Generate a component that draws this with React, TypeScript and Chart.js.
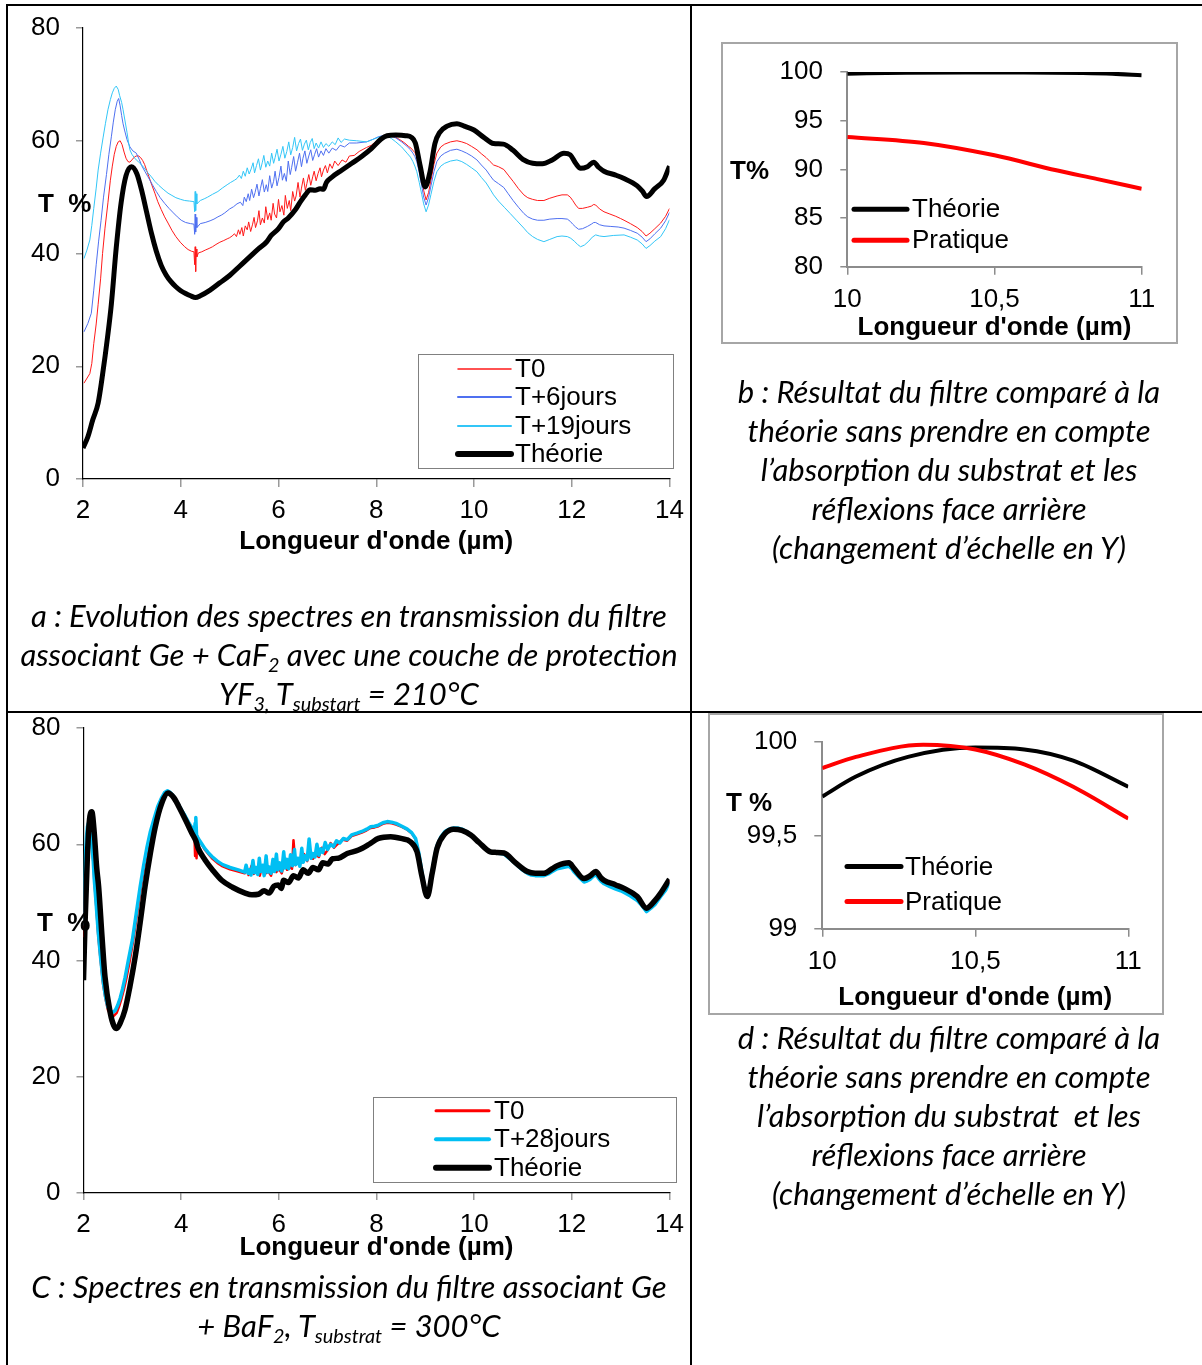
import React, { useEffect, useRef } from 'react';
import { Chart, registerables } from 'chart.js';

Chart.register(...registerables);
const FONT = '"Liberation Sans", Arial, sans-serif';
Chart.defaults.font.family = FONT;

type Pt = [number, number];

// ---------- Chart a : Ge + CaF2 + YF3 (wavelength µm, T %) ----------
const aXTicks = [2, 4, 6, 8, 10, 12, 14];
const aYTicks = [0, 20, 40, 60, 80];
const aT0: Pt[] = [
  [2.02, 17], [2.14, 18.7], [2.18, 20.5], [2.22, 24], [2.27, 27.5], [2.31, 31], [2.36, 35.5], [2.4, 40], [2.45, 44.5], [2.51, 49],
  [2.56, 53], [2.6, 55.5], [2.64, 57.6], [2.68, 59], [2.72, 59.8], [2.76, 60], [2.8, 59.3], [2.84, 58], [2.88, 56.9],
  [2.92, 56.3], [2.96, 56.2], [3.0, 56.6], [3.05, 57.1], [3.09, 57.3], [3.14, 57.3], [3.18, 57.0], [3.22, 56.5], [3.26, 55.8],
  [3.3, 54.8], [3.35, 53.6], [3.41, 52.1], [3.47, 50.7], [3.53, 49.2], [3.6, 47.8], [3.67, 46.5], [3.74, 45.4], [3.82, 44.1],
  [3.9, 43.0], [3.99, 42.0], [4.08, 41.2], [4.15, 40.7], [4.22, 40.4], [4.27, 40.3], [4.285, 38.0], [4.295, 41.2], [4.305, 36.8],
  [4.315, 40.8], [4.33, 39.4], [4.36, 40.1], [4.43, 40.3], [4.5, 40.6], [4.58, 40.9], [4.65, 41.2], [4.72, 41.6], [4.8, 42.0],
  [4.88, 42.3], [4.95, 42.6], [5.0, 42.8], [5.05, 43.1],
  [5.1, 43.5], [5.14, 43.0], [5.18, 44.2], [5.21, 43.4], [5.25, 44.6], [5.28, 43.1], [5.32, 44.9], [5.36, 44.2], [5.39, 45.6],
  [5.43, 43.9], [5.47, 45.2], [5.5, 46.4], [5.53, 44.6], [5.57, 45.8], [5.6, 47.6], [5.63, 45.1], [5.67, 46.3], [5.71, 45.4],
  [5.74, 48.3], [5.78, 46.0], [5.82, 47.2], [5.85, 45.9], [5.89, 48.9], [5.92, 47.0], [5.96, 46.3], [6.0, 49.6], [6.03, 47.4],
  [6.07, 48.5], [6.11, 46.8], [6.14, 50.3], [6.18, 48.0], [6.22, 49.4], [6.25, 47.6], [6.29, 51.0], [6.33, 49.3], [6.36, 50.2],
  [6.4, 52.6], [6.44, 50.0], [6.47, 51.6], [6.51, 53.4], [6.55, 51.2], [6.58, 52.4], [6.62, 54.0], [6.66, 52.1], [6.7, 53.6],
  [6.73, 54.6], [6.77, 52.9], [6.81, 54.2], [6.85, 55.2], [6.88, 53.6], [6.92, 54.8], [6.96, 55.6], [7.0, 54.3], [7.05, 55.9],
  [7.1, 55.1], [7.15, 56.4], [7.22, 55.6], [7.3, 56.6], [7.38, 56.2], [7.45, 57.3], [7.55, 57.4], [7.65, 58.1], [7.8, 58.8],
  [7.9, 59.2], [7.97, 59.7], [8.04, 60.1], [8.13, 60.6], [8.22, 61.0], [8.31, 60.9], [8.4, 60.6], [8.48, 60.2], [8.55, 59.8],
  [8.61, 59.4], [8.66, 59.0], [8.71, 58.7], [8.75, 58.3], [8.79, 57.9], [8.83, 57.2], [8.87, 55.6], [8.92, 53.5], [8.97, 51.2],
  [9.02, 49.5], [9.07, 50.8], [9.12, 53.0], [9.18, 55.8], [9.24, 57.8], [9.32, 58.9], [9.4, 59.4], [9.52, 59.8], [9.65, 60.0],
  [9.75, 59.8], [9.85, 59.5], [9.95, 59.0], [10.06, 58.4], [10.15, 57.7], [10.25, 57.0], [10.33, 56.3], [10.4, 55.7],
  [10.5, 55.4], [10.61, 54.9], [10.7, 53.9], [10.8, 52.8], [10.91, 51.5], [11.02, 50.4], [11.1, 49.9], [11.2, 49.6],
  [11.3, 49.4], [11.43, 49.4], [11.55, 49.8], [11.7, 50.2], [11.8, 50.4], [11.91, 50.4], [11.97, 50.0], [12.02, 49.4],
  [12.08, 48.6], [12.14, 48.0], [12.22, 48.0], [12.32, 48.2], [12.4, 48.4], [12.45, 48.7], [12.49, 48.6], [12.57, 47.9],
  [12.66, 47.4], [12.78, 47.0], [12.9, 46.6], [13.0, 46.2], [13.07, 45.9], [13.2, 45.3], [13.34, 44.6], [13.44, 43.9],
  [13.52, 43.1], [13.6, 43.6], [13.7, 44.4], [13.82, 45.4], [13.92, 46.6], [14.0, 48.0],
];
const aT6: Pt[] = [
  [2.02, 26.1], [2.1, 27.6], [2.17, 29.4], [2.22, 33.5], [2.27, 38], [2.32, 42.2], [2.37, 45.9], [2.42, 50], [2.48, 54],
  [2.53, 57.6], [2.58, 60.7], [2.62, 63.3], [2.66, 65.5], [2.7, 67.0], [2.73, 67.5], [2.76, 66.2], [2.79, 64.5], [2.82, 63.0],
  [2.85, 61.9], [2.9, 60.2], [2.96, 58.9], [3.02, 58.2], [3.09, 57.8], [3.15, 56.7], [3.2, 55.6], [3.27, 54.5], [3.33, 53.6],
  [3.42, 52.2], [3.5, 51.0], [3.58, 49.9], [3.67, 48.9], [3.76, 48.0], [3.85, 47.2], [3.93, 46.5], [4.01, 45.9], [4.1, 45.5],
  [4.2, 45.3], [4.27, 45.2], [4.285, 43.4], [4.295, 47.0], [4.305, 43.8], [4.315, 46.4], [4.33, 44.6], [4.4, 45.3],
  [4.5, 45.5], [4.6, 45.8], [4.68, 46.1], [4.76, 46.5], [4.83, 46.8], [4.9, 47.2], [5.0, 47.9], [5.08, 48.3], [5.15, 48.8],
  [5.22, 49.1], [5.27, 48.5], [5.3, 50.0], [5.34, 49.2], [5.38, 50.6], [5.41, 49.4], [5.45, 51.4], [5.49, 49.9], [5.52, 50.8],
  [5.56, 52.3], [5.6, 50.2], [5.63, 51.5], [5.67, 53.1], [5.71, 50.9], [5.75, 52.2], [5.78, 51.0], [5.82, 53.8], [5.86, 51.6],
  [5.9, 52.8], [5.93, 54.6], [5.97, 52.0], [6.01, 53.5], [6.05, 55.5], [6.08, 53.0], [6.12, 54.2], [6.16, 52.8], [6.2, 56.4],
  [6.24, 54.0], [6.27, 55.3], [6.31, 57.2], [6.35, 54.6], [6.39, 56.2], [6.43, 57.8], [6.47, 55.4], [6.5, 56.9], [6.54, 58.2],
  [6.58, 56.0], [6.62, 57.3], [6.66, 58.4], [6.7, 56.5], [6.74, 57.6], [6.78, 58.6], [6.82, 57.1], [6.87, 58.2], [6.92, 57.4],
  [6.97, 58.6], [7.03, 57.8], [7.1, 58.7], [7.18, 58.3], [7.26, 59.2], [7.35, 58.9], [7.45, 59.6], [7.6, 59.6], [7.8, 59.8],
  [7.92, 60.2], [8.04, 60.7], [8.13, 60.9], [8.22, 61.0], [8.31, 60.8], [8.4, 60.5], [8.52, 59.8], [8.63, 59.0], [8.7, 58.4],
  [8.75, 57.8], [8.79, 57.2], [8.83, 56.3], [8.88, 54.4], [8.93, 52.0], [8.97, 50.0], [9.02, 48.6], [9.07, 49.9], [9.12, 52.0],
  [9.18, 54.5], [9.24, 56.3], [9.32, 57.3], [9.4, 57.8], [9.52, 58.3], [9.65, 58.5], [9.75, 58.2], [9.85, 57.8], [9.95, 57.3],
  [10.06, 56.6], [10.15, 55.7], [10.25, 54.8], [10.33, 53.8], [10.4, 53.0], [10.5, 52.4], [10.61, 51.7], [10.7, 50.6],
  [10.8, 49.4], [10.91, 48.2], [11.02, 47.1], [11.1, 46.5], [11.2, 46.1], [11.3, 45.9], [11.43, 45.9], [11.55, 46.1],
  [11.7, 46.2], [11.8, 46.2], [11.91, 46.1], [11.97, 45.7], [12.02, 45.2], [12.08, 44.7], [12.14, 44.3], [12.22, 44.4],
  [12.32, 44.8], [12.4, 45.2], [12.45, 45.5], [12.49, 45.5], [12.57, 45.1], [12.66, 44.9], [12.8, 44.8], [12.95, 44.7],
  [13.07, 44.5], [13.2, 44.1], [13.34, 43.6], [13.44, 42.9], [13.52, 42.1], [13.6, 42.6], [13.7, 43.5], [13.82, 44.5],
  [13.92, 45.8], [14.0, 47.3],
];
const aT19: Pt[] = [
  [2.02, 39.1], [2.08, 40.6], [2.14, 42.4], [2.18, 45], [2.22, 48], [2.27, 51.6], [2.31, 54.8], [2.36, 57.8], [2.41, 60.5],
  [2.46, 63.1], [2.51, 65.5], [2.56, 67.3], [2.6, 68.5], [2.64, 69.3], [2.68, 69.7], [2.72, 69.1], [2.75, 68], [2.79, 66.8],
  [2.82, 65.5], [2.86, 63.5], [2.9, 61.5], [2.93, 59.8], [2.96, 58.4], [3.0, 57.6], [3.05, 57], [3.09, 56.6], [3.13, 56.3],
  [3.19, 55.8], [3.25, 55.2], [3.32, 54.4], [3.4, 53.6], [3.47, 52.8], [3.55, 52.1], [3.64, 51.4], [3.74, 50.7], [3.82, 50.3],
  [3.9, 49.9], [4.0, 49.6], [4.08, 49.4], [4.18, 49.3], [4.27, 49.2], [4.285, 47.4], [4.295, 51.0], [4.305, 47.6], [4.315, 50.6],
  [4.33, 48.8], [4.4, 49.4], [4.48, 49.7], [4.55, 50.0], [4.65, 50.5], [4.76, 51.0], [4.85, 51.6], [4.95, 52.2], [5.02, 52.6],
  [5.1, 53.0], [5.15, 53.3], [5.2, 53.9], [5.24, 53.3], [5.28, 54.6], [5.32, 53.7], [5.36, 55.2], [5.4, 54.1], [5.44, 55.0],
  [5.48, 56.1], [5.51, 54.3], [5.55, 55.6], [5.59, 56.8], [5.63, 54.8], [5.67, 56.2], [5.7, 57.4], [5.74, 55.3], [5.78, 56.4],
  [5.82, 55.5], [5.86, 57.8], [5.9, 56.0], [5.93, 57.0], [5.97, 58.5], [6.01, 56.4], [6.05, 57.6], [6.09, 59.0], [6.13, 56.9],
  [6.17, 58.1], [6.21, 59.8], [6.25, 57.5], [6.29, 58.8], [6.33, 60.6], [6.37, 58.2], [6.41, 59.5], [6.45, 60.3], [6.49, 58.3],
  [6.53, 59.4], [6.57, 60.1], [6.61, 58.4], [6.65, 59.7], [6.69, 60.4], [6.73, 58.6], [6.77, 59.6], [6.82, 58.7], [6.87, 59.8],
  [6.92, 58.8], [6.97, 59.5], [7.03, 59.0], [7.1, 59.8], [7.16, 59.3], [7.22, 60.5], [7.28, 59.7], [7.35, 60.3], [7.45, 60.1],
  [7.6, 60.0], [7.8, 59.8], [7.92, 60.2], [8.04, 60.6], [8.13, 60.8], [8.22, 60.8], [8.31, 60.4], [8.4, 59.8], [8.52, 58.9],
  [8.63, 57.8], [8.7, 57.1], [8.75, 56.3], [8.79, 55.5], [8.83, 54.5], [8.88, 52.6], [8.93, 50.5], [8.97, 48.8], [9.02, 47.4],
  [9.07, 48.6], [9.12, 50.5], [9.18, 52.8], [9.24, 54.5], [9.32, 55.5], [9.4, 56.0], [9.52, 56.4], [9.65, 56.6], [9.75, 56.3],
  [9.85, 55.8], [9.95, 55.2], [10.06, 54.5], [10.15, 53.5], [10.25, 52.5], [10.33, 51.4], [10.4, 50.4], [10.5, 49.3],
  [10.62, 48.2], [10.74, 47.1], [10.88, 45.8], [11.02, 44.5], [11.1, 43.7], [11.2, 43.0], [11.3, 42.5], [11.43, 42.1],
  [11.55, 42.5], [11.7, 43.0], [11.8, 43.1], [11.91, 43.0], [11.98, 42.7], [12.05, 42.2], [12.12, 41.6], [12.18, 41.2],
  [12.26, 41.5], [12.35, 42.2], [12.42, 42.9], [12.49, 43.3], [12.57, 43.1], [12.66, 43.0], [12.85, 43.2], [13.07, 43.3],
  [13.2, 42.9], [13.34, 42.4], [13.44, 41.7], [13.52, 40.9], [13.6, 41.4], [13.7, 42.2], [13.82, 43.0], [13.92, 44.4], [14.0, 46.0],
];
const aTheo: Pt[] = [
  [2.0, 5.5], [2.1, 7.5], [2.2, 10.5], [2.31, 13.5], [2.4, 18.5], [2.5, 25], [2.58, 31], [2.68, 41], [2.78, 49], [2.88, 53.8],
  [2.99, 55.4], [3.1, 54.2], [3.2, 51.2], [3.3, 47.4], [3.4, 43.6], [3.5, 40.4], [3.6, 37.9], [3.7, 36.2], [3.8, 35.0],
  [3.9, 34.1], [4.0, 33.4], [4.1, 32.9], [4.2, 32.5], [4.3, 32.2], [4.4, 32.5], [4.6, 33.5], [4.8, 34.8], [5.0, 36.1],
  [5.2, 37.7], [5.4, 39.3], [5.6, 40.9], [5.75, 42.0], [5.85, 43.2], [6.0, 44.4], [6.1, 45.6], [6.2, 46.3], [6.34, 47.7],
  [6.45, 49.2], [6.55, 50.4], [6.65, 51.3], [6.75, 51.2], [6.85, 51.5], [6.92, 51.4], [6.98, 52.6], [7.1, 53.6], [7.3, 54.8],
  [7.5, 56.0], [7.7, 57.2], [7.9, 58.6], [8.1, 60.3], [8.22, 60.9], [8.4, 61.0], [8.6, 60.9], [8.72, 60.6], [8.8, 59.6],
  [8.9, 55.5], [9.0, 51.8], [9.1, 54.5], [9.2, 59.5], [9.3, 61.5], [9.45, 62.6], [9.65, 63.0], [9.8, 62.6], [10.0, 61.9],
  [10.2, 60.6], [10.4, 59.5], [10.6, 59.4], [10.8, 58.3], [11.0, 56.7], [11.2, 56.0], [11.4, 55.9], [11.6, 56.6], [11.84, 57.8],
  [11.97, 57.5], [12.08, 56.0], [12.18, 55.1], [12.32, 55.4], [12.45, 56.2], [12.55, 55.3], [12.66, 54.6], [12.9, 53.9],
  [13.07, 53.3], [13.34, 52.0], [13.45, 51.0], [13.53, 50.1], [13.7, 51.5], [13.88, 53.0], [14.0, 55.5],
];

// ---------- Chart b : zoom 10–11 µm ----------
const bXTicks = [10, 10.5, 11];
const bYTicks = [80, 85, 90, 95, 100];
const bTheo: Pt[] = [[10, 99.83], [10.2, 99.92], [10.4, 99.96], [10.6, 99.96], [10.8, 99.9], [10.9, 99.82], [11, 99.66]];
const bPrat: Pt[] = [[10, 93.33], [10.26, 92.71], [10.5, 91.44], [10.71, 89.9], [10.85, 89.0], [11, 88.0]];

// ---------- Chart C : Ge + BaF2 ----------
const cXTicks = [2, 4, 6, 8, 10, 12, 14];
const cYTicks = [0, 20, 40, 60, 80];
const cT0: Pt[] = [
  [2.0, 44], [2.02, 51], [2.04, 57], [2.06, 60.5], [2.08, 62.5], [2.1, 63.2], [2.12, 63.2], [2.145, 62], [2.17, 60], [2.2, 57],
  [2.22, 54], [2.26, 49.4], [2.3, 44.5], [2.35, 40], [2.4, 36], [2.45, 33.4], [2.5, 31.5], [2.55, 30.7], [2.61, 30.4],
  [2.68, 31], [2.73, 32.1], [2.78, 33.5], [2.83, 35.1], [2.88, 37], [2.95, 40.1], [3.02, 43.5], [3.1, 48.1], [3.18, 52.7],
  [3.25, 56.3], [3.32, 59.5], [3.39, 62.2], [3.46, 64.5], [3.53, 66.5], [3.6, 68], [3.66, 68.7], [3.72, 69.0], [3.78, 68.8],
  [3.85, 68.1], [3.92, 67.1], [4.0, 66], [4.08, 64.9], [4.15, 63.8], [4.21, 63.0], [4.27, 62.2], [4.285, 58.0], [4.3, 63.0],
  [4.315, 57.6], [4.33, 61.4], [4.35, 60.9], [4.42, 60.0], [4.49, 59.0], [4.56, 58.3], [4.63, 57.6], [4.74, 56.8], [4.85, 56.2],
  [5.0, 55.7], [5.17, 55.3], [5.3, 55.0], [5.34, 55.9], [5.38, 54.7], [5.44, 56.3],
  [5.49, 54.9], [5.55, 55.6], [5.61, 54.6], [5.66, 56.4], [5.72, 54.9], [5.78, 55.4], [5.84, 54.6], [5.9, 56.9], [5.95, 55.2],
  [6.0, 55.8], [6.06, 55.0], [6.12, 57.2], [6.17, 55.6], [6.22, 56.1], [6.27, 55.8], [6.3, 60.7], [6.34, 56.4], [6.4, 57.2],
  [6.46, 56.8], [6.52, 58.3], [6.58, 57.1], [6.64, 58.8], [6.7, 57.5], [6.76, 58.2], [6.82, 57.8], [6.88, 59.4], [6.94, 58.3],
  [7.0, 59.0], [7.06, 60.2], [7.13, 59.4], [7.2, 60.0], [7.3, 60.8], [7.4, 60.6], [7.49, 61.4], [7.6, 61.7], [7.7, 62.0],
  [7.8, 62.4], [7.88, 62.8], [7.96, 62.9], [8.04, 63.1], [8.13, 63.5], [8.22, 63.7], [8.31, 63.6], [8.4, 63.4], [8.52, 63.0],
  [8.63, 62.5], [8.72, 61.9], [8.8, 60.9], [8.87, 58.2], [8.93, 55.0], [8.99, 52.3], [9.04, 51.1], [9.09, 52.6], [9.14, 55.3],
  [9.19, 57.7], [9.24, 59.6], [9.32, 61.2], [9.4, 62.1], [9.49, 62.6], [9.58, 62.8], [9.66, 62.7], [9.75, 62.5], [9.84, 62.2],
  [9.93, 61.7], [10.01, 61.0], [10.1, 60.3], [10.2, 59.4], [10.33, 58.7], [10.45, 58.6], [10.61, 58.4], [10.73, 57.6],
  [10.85, 56.7], [10.97, 55.9], [11.09, 55.2], [11.17, 54.9], [11.25, 54.8], [11.34, 54.8], [11.43, 54.8], [11.52, 55.1],
  [11.6, 55.6], [11.7, 56.0], [11.82, 56.3], [11.94, 56.5], [12.0, 56.1], [12.05, 55.5], [12.15, 54.6], [12.25, 53.8],
  [12.32, 54.0], [12.38, 54.3], [12.44, 54.8], [12.49, 55.0], [12.55, 54.4], [12.6, 53.9], [12.66, 53.5], [12.78, 53.0],
  [12.9, 52.6], [13.0, 52.3], [13.07, 52.0], [13.2, 51.4], [13.34, 50.6], [13.44, 49.7], [13.53, 48.7], [13.62, 49.3],
  [13.7, 50.0], [13.82, 51.3], [13.92, 52.4], [14.0, 53.8],
];
const cT28: Pt[] = [
  [2.0, 46], [2.02, 52.5], [2.04, 58], [2.06, 61.2], [2.08, 63], [2.1, 63.6], [2.12, 63.5], [2.145, 62.1], [2.17, 60], [2.2, 57],
  [2.22, 54], [2.26, 49.6], [2.3, 45], [2.35, 40.5], [2.4, 36.5], [2.45, 33.8], [2.5, 32], [2.54, 31.3], [2.58, 31.0],
  [2.65, 31.4], [2.7, 32.3], [2.75, 33.5], [2.8, 35.1], [2.85, 37], [2.92, 40.1], [3.0, 43.5], [3.08, 48.1], [3.16, 52.7],
  [3.23, 56.3], [3.3, 59.5], [3.37, 62.2], [3.45, 64.5], [3.52, 66.5], [3.6, 68], [3.66, 68.9], [3.72, 69.2], [3.78, 68.9],
  [3.85, 68.2], [3.92, 67.2], [4.0, 66], [4.08, 64.9], [4.15, 63.8], [4.21, 63.0], [4.27, 62.2], [4.285, 63.6], [4.3, 64.6],
  [4.315, 61.6], [4.35, 61.0], [4.42, 60.1], [4.49, 59.2], [4.56, 58.5], [4.63, 57.9], [4.74, 57.1], [4.85, 56.5], [5.0, 56.0],
  [5.17, 55.6], [5.3, 55.2], [5.33, 56.4], [5.37, 55.0], [5.4, 55.6], [5.43, 54.7],
  [5.47, 57.2], [5.5, 55.1], [5.53, 56.0], [5.57, 54.8], [5.6, 57.6], [5.63, 55.3], [5.67, 56.4], [5.7, 54.6], [5.74, 58.0],
  [5.77, 55.2], [5.8, 56.1], [5.84, 55.0], [5.88, 57.4], [5.91, 55.3], [5.95, 58.3], [5.98, 55.6], [6.02, 56.8], [6.06, 55.4],
  [6.1, 58.7], [6.13, 55.9], [6.17, 57.4], [6.2, 55.8], [6.24, 58.2], [6.28, 56.3], [6.32, 59.1], [6.35, 56.5], [6.39, 57.6],
  [6.43, 56.2], [6.47, 59.3], [6.5, 56.9], [6.54, 58.0], [6.58, 57.3], [6.62, 60.9], [6.66, 57.6], [6.7, 58.4], [6.74, 57.8],
  [6.78, 60.0], [6.82, 58.1], [6.86, 59.2], [6.9, 58.6], [6.95, 60.3], [7.0, 59.1], [7.06, 60.0], [7.12, 59.6], [7.18, 60.6],
  [7.25, 60.2], [7.32, 61.0], [7.4, 60.8], [7.49, 61.6], [7.6, 61.9], [7.7, 62.2], [7.8, 62.6], [7.88, 63.0], [7.96, 63.1],
  [8.04, 63.3], [8.13, 63.7], [8.22, 63.9], [8.31, 63.8], [8.4, 63.6], [8.52, 63.1], [8.63, 62.6], [8.72, 62.0], [8.8, 61.0],
  [8.87, 58.4], [8.93, 55.2], [8.99, 52.4], [9.04, 51.2], [9.09, 52.8], [9.14, 55.5], [9.19, 57.9], [9.24, 59.8], [9.32, 61.3],
  [9.4, 62.2], [9.49, 62.6], [9.58, 62.8], [9.66, 62.8], [9.75, 62.6], [9.84, 62.2], [9.93, 61.7], [10.01, 61.0], [10.1, 60.3],
  [10.2, 59.4], [10.33, 58.6], [10.45, 58.5], [10.61, 58.3], [10.73, 57.5], [10.85, 56.6], [10.97, 55.7], [11.09, 55.0],
  [11.17, 54.7], [11.25, 54.6], [11.34, 54.6], [11.43, 54.6], [11.52, 54.9], [11.6, 55.3], [11.7, 55.8], [11.82, 56.0],
  [11.94, 56.2], [12.0, 55.8], [12.05, 55.2], [12.15, 54.3], [12.25, 53.5], [12.32, 53.7], [12.38, 54.0], [12.44, 54.5],
  [12.49, 54.8], [12.55, 54.1], [12.6, 53.6], [12.66, 53.2], [12.78, 52.7], [12.9, 52.3], [13.0, 52.0], [13.07, 51.7],
  [13.2, 51.1], [13.34, 50.3], [13.44, 49.4], [13.53, 48.4], [13.62, 49.0], [13.7, 49.6], [13.82, 51.0], [13.92, 52.1], [14.0, 53.5],
];
const cTheo: Pt[] = [
  [2.0, 36.6], [2.03, 46], [2.08, 58], [2.12, 64], [2.17, 65.6], [2.22, 62], [2.27, 56], [2.31, 52.7], [2.38, 44], [2.44, 37.2],
  [2.55, 30.9], [2.62, 28.8], [2.68, 28.3], [2.75, 29.2], [2.85, 31.5], [2.95, 35.5], [3.06, 40.7], [3.16, 46.5], [3.26, 52.7],
  [3.37, 58.5], [3.47, 63], [3.6, 67], [3.73, 68.8], [3.85, 68], [3.95, 66.5], [4.1, 64], [4.22, 61.9], [4.3, 60.6],
  [4.35, 59.3], [4.49, 57.3], [4.65, 55.5], [4.83, 53.8], [5.05, 52.6], [5.31, 51.6], [5.45, 51.3], [5.58, 51.4], [5.7, 52.0],
  [5.8, 51.6], [5.9, 52.8], [5.99, 53.0], [6.05, 52.4], [6.1, 53.8], [6.2, 53.4], [6.3, 54.6], [6.4, 54.2], [6.5, 55.6],
  [6.6, 55.0], [6.7, 56.0], [6.81, 55.6], [6.9, 56.8], [7.0, 56.6], [7.1, 57.5], [7.22, 57.6], [7.4, 58.4], [7.63, 59.0],
  [7.85, 60.0], [8.04, 61.0], [8.29, 61.3], [8.5, 61.0], [8.7, 60.4], [8.83, 58.7], [8.93, 54.5], [9.04, 51.0], [9.14, 55],
  [9.24, 59.3], [9.4, 61.8], [9.58, 62.6], [9.75, 62.4], [9.93, 61.6], [10.1, 60.3], [10.33, 58.7], [10.45, 58.6],
  [10.61, 58.5], [10.85, 56.8], [11.09, 55.3], [11.25, 55.0], [11.43, 55.0], [11.6, 55.8], [11.7, 56.3], [11.94, 56.8],
  [12.05, 55.8], [12.25, 54.1], [12.38, 54.6], [12.49, 55.3], [12.6, 54.2], [12.66, 53.8], [12.9, 53.0], [13.07, 52.4],
  [13.34, 51.0], [13.53, 49.0], [13.7, 50.3], [13.82, 51.6], [14.0, 54.0],
];

// ---------- Chart d : zoom 10–11 µm ----------
const dXTicks = [10, 10.5, 11];
const dYTicks = [99, 99.5, 100];
const dTheo: Pt[] = [[10, 99.708], [10.11, 99.815], [10.28, 99.92], [10.5, 99.97], [10.66, 99.96], [10.82, 99.9], [11, 99.76]];
const dPrat: Pt[] = [[10, 99.86], [10.11, 99.92], [10.33, 99.985], [10.5, 99.96], [10.66, 99.88], [10.82, 99.76], [11, 99.59]];

// ---------- helpers ----------
interface Series { label: string; data: Pt[]; color: string; width: number; order: number; legendWidth: number; smooth: boolean; }
interface LegendSpec { x0: number; x1: number; tx: number; rows: number[]; box?: [number, number, number, number]; }
interface Spec {
  series: Series[]; legend: LegendSpec;
  xMin: number; xMax: number; xTicks: number[]; yMin: number; yMax: number; yTicks: number[];
  padTop: number; padRight: number; yW: number; xH: number;
  xTickLen: number; xTickPad: number; yTickLen: number; yTickPad: number; titlePadBottom: number;
  xAxisColor: string; yAxisColor: string; axisWidth: number; tickColor: string;
}

function makeLegend(spec: LegendSpec, series: Series[]) {
  return {
    id: 'handLegend',
    afterDraw(chart: any) {
      const ctx = chart.ctx as CanvasRenderingContext2D;
      ctx.save();
      if (spec.box) {
        const [l, t, r, b] = spec.box;
        ctx.strokeStyle = '#808080';
        ctx.lineWidth = 1;
        ctx.strokeRect(l + 0.5, t + 0.5, r - l, b - t);
      }
      ctx.font = `26px ${FONT}`;
      ctx.textBaseline = 'middle';
      ctx.textAlign = 'left';
      series.forEach((s, i) => {
        const y = spec.rows[i];
        ctx.strokeStyle = s.color;
        ctx.lineWidth = s.legendWidth;
        ctx.lineCap = 'round';
        ctx.beginPath();
        ctx.moveTo(spec.x0, y);
        ctx.lineTo(spec.x1, y);
        ctx.stroke();
        ctx.fillStyle = '#000';
        ctx.fillText(s.label, spec.tx, y + 1);
      });
      ctx.restore();
    },
  };
}

const fmt = (v: number) => String(v).replace('.', ',');

function buildConfig(c: Spec): any {
  return {
    type: 'line',
    data: {
      datasets: c.series.map((s) => ({
        label: s.label,
        data: s.data.map(([x, y]) => ({ x, y })),
        borderColor: s.color,
        backgroundColor: s.color,
        borderWidth: s.width,
        pointRadius: 0,
        pointHoverRadius: 0,
        fill: false,
        cubicInterpolationMode: s.smooth ? 'monotone' : 'default',
        tension: 0,
        borderJoinStyle: 'round',
        order: s.order,
      })),
    },
    options: {
      responsive: false,
      animation: false,
      devicePixelRatio: 1,
      events: [],
      layout: { padding: { top: c.padTop, right: c.padRight, left: 0, bottom: 0 } },
      plugins: { legend: { display: false }, tooltip: { enabled: false }, title: { display: false } },
      scales: {
        x: {
          type: 'linear',
          min: c.xMin,
          max: c.xMax,
          afterBuildTicks: (s: any) => { s.ticks = c.xTicks.map((v) => ({ value: v })); },
          afterFit: (s: any) => { s.height = c.xH; },
          grid: { drawOnChartArea: false, drawTicks: true, tickLength: c.xTickLen, color: c.tickColor, lineWidth: 1.5 },
          border: { display: true, color: c.xAxisColor, width: c.axisWidth },
          ticks: {
            padding: c.xTickPad, color: '#000', font: { size: 26, lineHeight: 1.2 }, maxRotation: 0, autoSkip: false,
            callback: (v: number) => fmt(v),
          },
          title: {
            display: true, text: "Longueur d'onde (µm)", color: '#000',
            font: { size: 26, weight: 'bold', lineHeight: 1.2 },
            padding: { top: 0, bottom: c.titlePadBottom },
          },
        },
        y: {
          type: 'linear',
          min: c.yMin,
          max: c.yMax,
          afterBuildTicks: (s: any) => { s.ticks = c.yTicks.map((v) => ({ value: v })); },
          afterFit: (s: any) => { s.width = c.yW; },
          grid: { drawOnChartArea: false, drawTicks: true, tickLength: c.yTickLen, color: c.tickColor, lineWidth: 1.5 },
          border: { display: true, color: c.yAxisColor, width: c.axisWidth },
          ticks: {
            padding: c.yTickPad, color: '#000', font: { size: 26, lineHeight: 1.2 }, autoSkip: false,
            callback: (v: number) => fmt(v),
          },
        },
      },
    },
    plugins: [makeLegend(c.legend, c.series)],
  };
}

function ChartCanvas({ left, top, width, height, spec }: { left: number; top: number; width: number; height: number; spec: Spec }) {
  const ref = useRef<HTMLCanvasElement>(null);
  useEffect(() => {
    const chart = new Chart(ref.current as HTMLCanvasElement, buildConfig(spec));
    return () => chart.destroy();
  }, []);
  return (
    <canvas
      ref={ref}
      width={width}
      height={height}
      style={{ position: 'absolute', left, top, width, height }}
    />
  );
}

// ---------- specs ----------
const specA: Spec = {
  series: [
    { label: 'T0', data: aT0, color: '#ff1a1a', width: 1, order: 3, legendWidth: 1.5, smooth: false },
    { label: 'T+6jours', data: aT6, color: '#4f70f0', width: 1, order: 2, legendWidth: 2, smooth: false },
    { label: 'T+19jours', data: aT19, color: '#33c6f7', width: 1, order: 1, legendWidth: 2, smooth: false },
    { label: 'Théorie', data: aTheo, color: '#000000', width: 5, order: 0, legendWidth: 6, smooth: true },
  ],
  legend: { x0: 448, x1: 501, tx: 505, rows: [375, 403, 432, 460], box: [408, 360, 663, 474] },
  xMin: 2, xMax: 14, xTicks: aXTicks, yMin: 0, yMax: 80, yTicks: aYTicks,
  padTop: 34, padRight: 26.5, yW: 73, xH: 101,
  xTickLen: 8, xTickPad: 8, yTickLen: 7, yTickPad: 16, titlePadBottom: 22.4,
  xAxisColor: '#000', yAxisColor: '#000', axisWidth: 1.2, tickColor: '#9a9a9a',
};

const specB: Spec = {
  series: [
    { label: 'Théorie', data: bTheo, color: '#000000', width: 4, order: 1, legendWidth: 5, smooth: true },
    { label: 'Pratique', data: bPrat, color: '#ff0000', width: 4, order: 0, legendWidth: 5, smooth: true },
  ],
  legend: { x0: 132, x1: 185, tx: 190, rows: [172.3, 203.3] },
  xMin: 10, xMax: 11, xTicks: bXTicks, yMin: 80, yMax: 100, yTicks: bYTicks,
  padTop: 35, padRight: 34.3, yW: 125.3, xH: 76.3,
  xTickLen: 8, xTickPad: 9.7, yTickLen: 7, yTickPad: 17.3, titlePadBottom: 0,
  xAxisColor: '#8c8c8c', yAxisColor: '#8c8c8c', axisWidth: 2, tickColor: '#8c8c8c',
};

const specC: Spec = {
  series: [
    { label: 'T0', data: cT0, color: '#ff0000', width: 2.5, order: 2, legendWidth: 3, smooth: false },
    { label: 'T+28jours', data: cT28, color: '#00bff3', width: 3.5, order: 1, legendWidth: 4, smooth: false },
    { label: 'Théorie', data: cTheo, color: '#000000', width: 5.5, order: 0, legendWidth: 6, smooth: true },
  ],
  legend: { x0: 426, x1: 479, tx: 484, rows: [416.7, 445.3, 473.7], box: [363, 403, 666, 488] },
  xMin: 2, xMax: 14, xTicks: cXTicks, yMin: 0, yMax: 80, yTicks: cYTicks,
  padTop: 34, padRight: 26.5, yW: 73.5, xH: 77,
  xTickLen: 7, xTickPad: 9, yTickLen: 7, yTickPad: 16, titlePadBottom: 6.4,
  xAxisColor: '#000', yAxisColor: '#000', axisWidth: 1.2, tickColor: '#9a9a9a',
};

const specD: Spec = {
  series: [
    { label: 'Théorie', data: dTheo, color: '#000000', width: 4, order: 1, legendWidth: 5, smooth: true },
    { label: 'Pratique', data: dPrat, color: '#ff0000', width: 4, order: 0, legendWidth: 5, smooth: true },
  ],
  legend: { x0: 137, x1: 191, tx: 195, rows: [159.4, 194.4] },
  xMin: 10, xMax: 11, xTicks: dXTicks, yMin: 99, yMax: 100, yTicks: dYTicks,
  padTop: 35, padRight: 33.7, yW: 112.3, xH: 84.3,
  xTickLen: 8, xTickPad: 9.4, yTickLen: 8, yTickPad: 17, titlePadBottom: 0,
  xAxisColor: '#8c8c8c', yAxisColor: '#8c8c8c', axisWidth: 2, tickColor: '#8c8c8c',
};

// ---------- page ----------
const abs = (l: number, t: number, w: number, h: number, extra: React.CSSProperties = {}): React.CSSProperties => ({
  position: 'absolute', left: l, top: t, width: w, height: h, ...extra,
});

const yLab: React.CSSProperties = {
  position: 'absolute', fontFamily: FONT, fontWeight: 'bold', fontSize: 26, lineHeight: '26px', whiteSpace: 'pre', color: '#000',
};

const capStyle: React.CSSProperties = {
  position: 'absolute', textAlign: 'center', fontFamily: 'Lato, "Open Sans", sans-serif', fontStyle: 'italic',
  fontSize: 31, lineHeight: '39px', whiteSpace: 'nowrap', color: '#000',
};
const sub: React.CSSProperties = { fontSize: '0.64em', position: 'relative', top: '0.28em', lineHeight: 0 };

export default function App() {
  return (
    <div style={abs(0, 0, 1202, 1365, { background: '#fff', overflow: 'hidden' })}>
      {/* table lines */}
      <div style={abs(6, 4, 2, 1361, { background: '#000' })} />
      <div style={abs(6, 4, 1196, 2, { background: '#000' })} />
      <div style={abs(690, 4, 2, 1361, { background: '#000' })} />
      <div style={abs(6, 711, 1196, 2, { background: '#000' })} />

      {/* boxes around small charts */}
      <div style={abs(721, 42, 457, 302, { border: '2px solid #a6a6a6', boxSizing: 'border-box' })} />
      <div style={abs(708, 713, 456, 302, { border: '2px solid #a6a6a6', boxSizing: 'border-box' })} />

      <ChartCanvas left={10} top={-6} width={686} height={586} spec={specA} />
      <ChartCanvas left={722} top={36.7} width={454} height={306} spec={specB} />
      <ChartCanvas left={10} top={694} width={686} height={576} spec={specC} />
      <ChartCanvas left={710} top={707.3} width={452} height={306} spec={specD} />

      {/* y-axis labels */}
      <div style={{ ...yLab, left: 38, top: 190 }}>{'T  %'}</div>
      <div style={{ ...yLab, left: 730, top: 157 }}>{'T%'}</div>
      <div style={{ ...yLab, left: 37, top: 909 }}>{'T  %'}</div>
      <div style={{ ...yLab, left: 726, top: 789 }}>{'T %'}</div>

      {/* captions */}
      <div style={{ ...capStyle, left: 8, top: 596, width: 682 }}>
        a : Evolution des spectres en transmission du filtre<br />
        associant Ge + CaF<span style={sub}>2</span> avec une couche de protection<br />
        YF<span style={sub}>3,</span> T<span style={sub}>substart</span> = 210°C
      </div>
      <div style={{ ...capStyle, left: 692, top: 372, width: 514 }}>
        b : Résultat du filtre comparé à la<br />
        théorie sans prendre en compte<br />
        l’absorption du substrat et les<br />
        réflexions face arrière<br />
        (changement d’échelle en Y)
      </div>
      <div style={{ ...capStyle, left: 8, top: 1267, width: 682 }}>
        C : Spectres en transmission du filtre associant Ge<br />
        + BaF<span style={sub}>2</span>, T<span style={sub}>substrat</span> = 300°C
      </div>
      <div style={{ ...capStyle, left: 692, top: 1018, width: 514, whiteSpace: 'pre' }}>
        {'d : Résultat du filtre comparé à la'}<br />
        {'théorie sans prendre en compte'}<br />
        {'l’absorption du substrat  et les'}<br />
        {'réflexions face arrière'}<br />
        {'(changement d’échelle en Y)'}
      </div>
    </div>
  );
}
